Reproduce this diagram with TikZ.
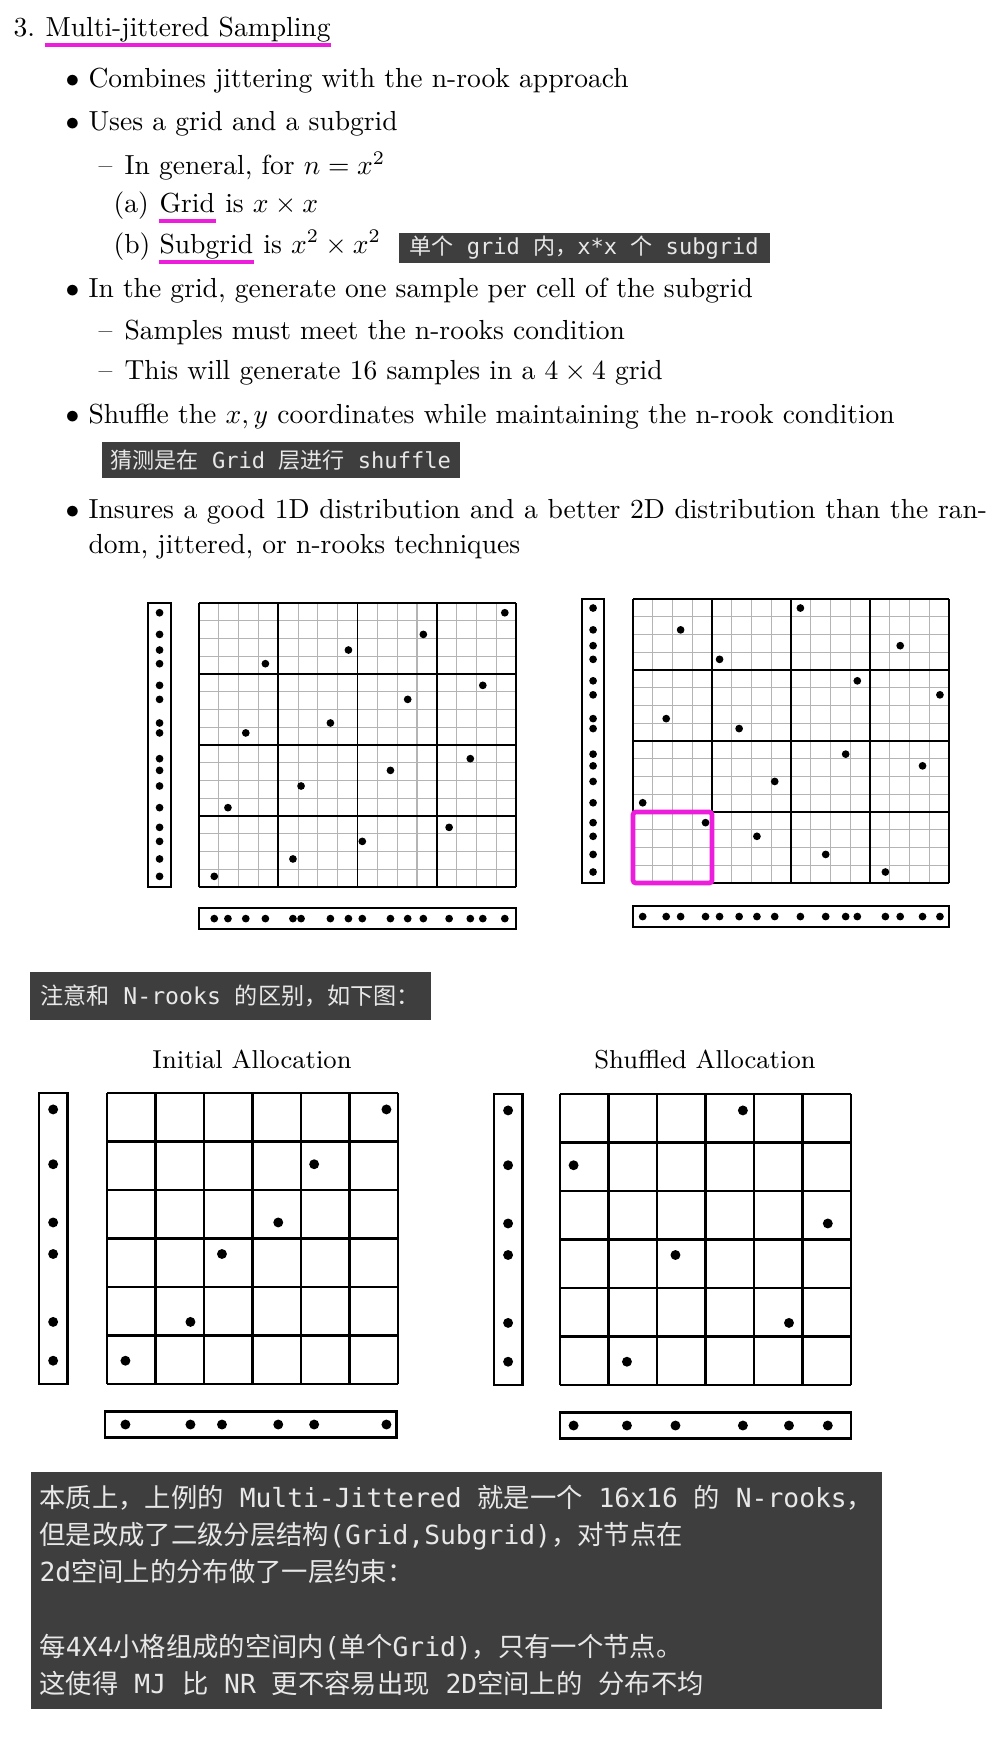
\documentclass[tikz,border=0pt]{standalone}
\usepackage{fontspec}
\newfontfamily\cjk{Noto Sans CJK SC}
\newfontfamily\mono{DejaVu Sans Mono}
\newcommand{\zh}[1]{{\cjk #1}}
\definecolor{hlpink}{RGB}{236,30,220}
\definecolor{notegray}{RGB}{62,62,62}
\definecolor{notetext}{RGB}{232,232,232}
\definecolor{subline}{RGB}{180,180,180}

\begin{document}
\begin{tikzpicture}[x=0.3628pt, y=-0.3628pt,
                    txt/.style  = {anchor=base west, inner sep=0pt},
                    hl/.style   = {hlpink, line width=1.45pt},
                    note/.style = {fill=notegray, text=notetext, anchor=north west,
                                   inner xsep=3.3pt, inner ysep=0pt, align=left,
                                   font=\mono\fontsize{8}{10}\selectfont},
                    frame/.style = {line width=0.6pt},
                    cellline/.style = {line width=1pt}]
                    \path[use as bounding box, fill=white] (0,0) rectangle (1000,1747);

                    % heading
                    \node[txt] (num)   at (13,37) {3.};
                    \node[txt] (title) at (45,37) {Multi-jittered Sampling};
                    \draw[hl] ([yshift=-2.9pt]title.base west) -- ([yshift=-2.9pt]title.base east);

                    % bullets
                    \node[txt] (b1dot)   at (65,88)  {$\bullet$};
                    \node[txt] (combine) at (88,88)  {Combines jittering with the n-rook approach};
                    \node[txt] (b2dot)   at (65,131) {$\bullet$};
                    \node[txt] (uses)    at (88,131) {Uses a grid and a subgrid};
                    \node[txt] (dash1)   at (98,175) {\textendash};
                    \node[txt] (general) at (124,175) {In general, for $n = x^2$};
                    \node[txt] (ita)     at (113,213) {(a)};
                    \node[txt] (grid)    at (159,213) {Grid};
                    \node[txt] (gridis)  at (grid.base east) {\ is $x \times x$};
                    \node[txt] (itb)     at (113,253) {(b)};
                    \node[txt] (subgrid) at (159,253) {Subgrid};
                    \node[txt] (subis)   at (subgrid.base east) {\ is $x^2 \times x^2$};
                    \draw[hl] ([yshift=-2.9pt]grid.base west) -- ([yshift=-2.9pt]grid.base east);
                    \draw[hl] ([yshift=-3.2pt]subgrid.base west) -- ([yshift=-3.2pt]subgrid.base east);
                    \node[note, minimum width=134.6pt, minimum height=10.9pt] (note1) at (398,232)
                        {\zh{单个} grid \zh{内，}x*x \zh{个} subgrid};

                    \node[txt] (b3dot)   at (65,297) {$\bullet$};
                    \node[txt] (percell) at (88,297) {In the grid, generate one sample per cell of the subgrid};
                    \node[txt] (dash2)   at (98,339) {\textendash};
                    \node[txt] (must)    at (124,339) {Samples must meet the n-rooks condition};
                    \node[txt] (dash3)   at (98,379) {\textendash};
                    \node[txt] (sixteen) at (124,379) {This will generate 16 samples in a $4 \times 4$ grid};
                    \node[txt] (b4dot)   at (65,423) {$\bullet$};
                    \node[txt] (shuffle) at (88,423) {Shuffle the $x, y$ coordinates while maintaining the n-rook condition};
                    \node[note, minimum width=129.5pt, minimum height=13.4pt] (note2) at (101,441)
                        {\zh{猜测是在} Grid \zh{层进行} shuffle};
                    \node[txt] (b5dot)   at (65,518) {$\bullet$};
                    \node[txt] (insures) at (88,518) {\makebox[326pt][s]{Insures a good 1D distribution and a better 2D distribution than the ran-}};
                    \node[txt] (dom)     at (88,553) {dom, jittered, or n-rooks techniques};

                    % multi-jittered, before shuffle
                    \begin{scope}[shift={(199,887)}, x=7.19pt, y=6.44pt]
                        \draw[subline, line width=0.4pt, step=1] (0,0) grid (16,16);
                        \draw[frame, step=4] (0,0) grid (16,16);
                        \draw[frame] (-2.57,0) rectangle (-1.41,16);
                        \draw[frame] (0,-1.18) rectangle (16,-2.37);
                        \foreach \u/\v in {15.43/15.45, 11.32/14.23, 7.54/13.35, 3.35/12.58,
                                           14.32/11.36, 10.53/10.57, 6.63/9.24, 2.36/8.68,
                                           13.69/7.23, 9.66/6.57, 5.15/5.69, 1.46/4.47,
                                           12.62/3.36, 8.24/2.57, 4.74/1.58, 0.77/0.60} {
                            \fill (\u,\v) circle (1.4pt);
                            \fill (-1.99,\v) circle (1.4pt);
                            \fill (\u,-1.78) circle (1.4pt);
                        }
                    \end{scope}

                    % multi-jittered, after shuffle
                    \begin{scope}[shift={(633,883)}, x=7.17pt, y=6.44pt]
                        \draw[subline, line width=0.4pt, step=1] (0,0) grid (16,16);
                        \draw[frame, step=4] (0,0) grid (16,16);
                        \draw[frame] (-2.58,0) rectangle (-1.47,16);
                        \draw[frame] (0,-1.30) rectangle (16,-2.48);
                        \draw[hlpink, line width=1.7pt, rounded corners=1pt] (0,0) rectangle (4,4);
                        \foreach \u/\v in {8.47/15.49, 2.41/14.26, 13.52/13.37, 4.38/12.60,
                                           11.35/11.39, 15.53/10.60, 1.68/9.26, 5.37/8.70,
                                           10.76/7.26, 14.65/6.60, 7.17/5.72, 0.49/4.52,
                                           3.67/3.40, 6.27/2.63, 9.75/1.61, 12.77/0.62} {
                            \fill (\u,\v) circle (1.4pt);
                            \fill (-2.02,\v) circle (1.4pt);
                            \fill (\u,-1.89) circle (1.4pt);
                        }
                    \end{scope}

                    \node[note, minimum width=145.5pt, minimum height=17.4pt,
                          font=\mono\fontsize{8.4}{10}\selectfont] (note3) at (29,971)
                        {\zh{注意和} N-rooks \zh{的区别，如下图：}};

                    % n-rooks
                    \node[anchor=base, font=\fontsize{9.4}{11}\selectfont] (initial)  at (252,1068) {Initial Allocation};
                    \node[anchor=base, font=\fontsize{9.4}{11}\selectfont] (shuffled) at (705,1068) {Shuffled Allocation};

                    \begin{scope}[shift={(107,1384)}, x=17.6pt, y=17.6pt]
                        \draw[cellline, step=1] (0,0) grid (6,6);
                        \draw[cellline] (-1.40,0) rectangle (-0.82,6);
                        \draw[cellline] (-0.04,-0.56) rectangle (5.96,-1.11);
                        \foreach \u/\v in {5.76/5.66, 4.27/4.53, 3.53/3.33,
                                           2.37/2.68, 1.72/1.28, 0.38/0.48} {
                            \fill (\u,\v) circle (1.8pt);
                            \fill (-1.11,\v) circle (1.8pt);
                            \fill (\u,-0.835) circle (1.8pt);
                        }
                    \end{scope}

                    \begin{scope}[shift={(560,1385)}, x=17.6pt, y=17.6pt]
                        \draw[cellline, step=1] (0,0) grid (6,6);
                        \draw[cellline] (-1.36,0) rectangle (-0.78,6);
                        \draw[cellline] (0,-0.56) rectangle (6,-1.11);
                        \foreach \u/\v in {3.77/5.66, 0.28/4.53, 5.52/3.33,
                                           2.38/2.68, 4.72/1.28, 1.38/0.48} {
                            \fill (\u,\v) circle (1.8pt);
                            \fill (-1.07,\v) circle (1.8pt);
                            \fill (\u,-0.835) circle (1.8pt);
                        }
                    \end{scope}

                    % note
                    \node[note, minimum width=306.2pt, minimum height=86.3pt,
                          font=\mono\fontsize{9.55}{13.5}\selectfont] (note4) at (30,1471)
                        {\zh{本质上，上例的} Multi-Jittered \zh{就是一个} 16x16 \zh{的} N-rooks\zh{，}\\
                         \zh{但是改成了二级分层结构}(Grid,Subgrid)\zh{，对节点在}\\
                         2d\zh{空间上的分布做了一层约束：}\\[13.5pt]
                         \zh{每}4X4\zh{小格组成的空间内}(\zh{单个}Grid)\zh{，只有一个节点。}\\
                         \zh{这使得} MJ \zh{比} NR \zh{更不容易出现} 2D\zh{空间上的} \zh{分布不均}};

                \end{tikzpicture}
\end{document}
